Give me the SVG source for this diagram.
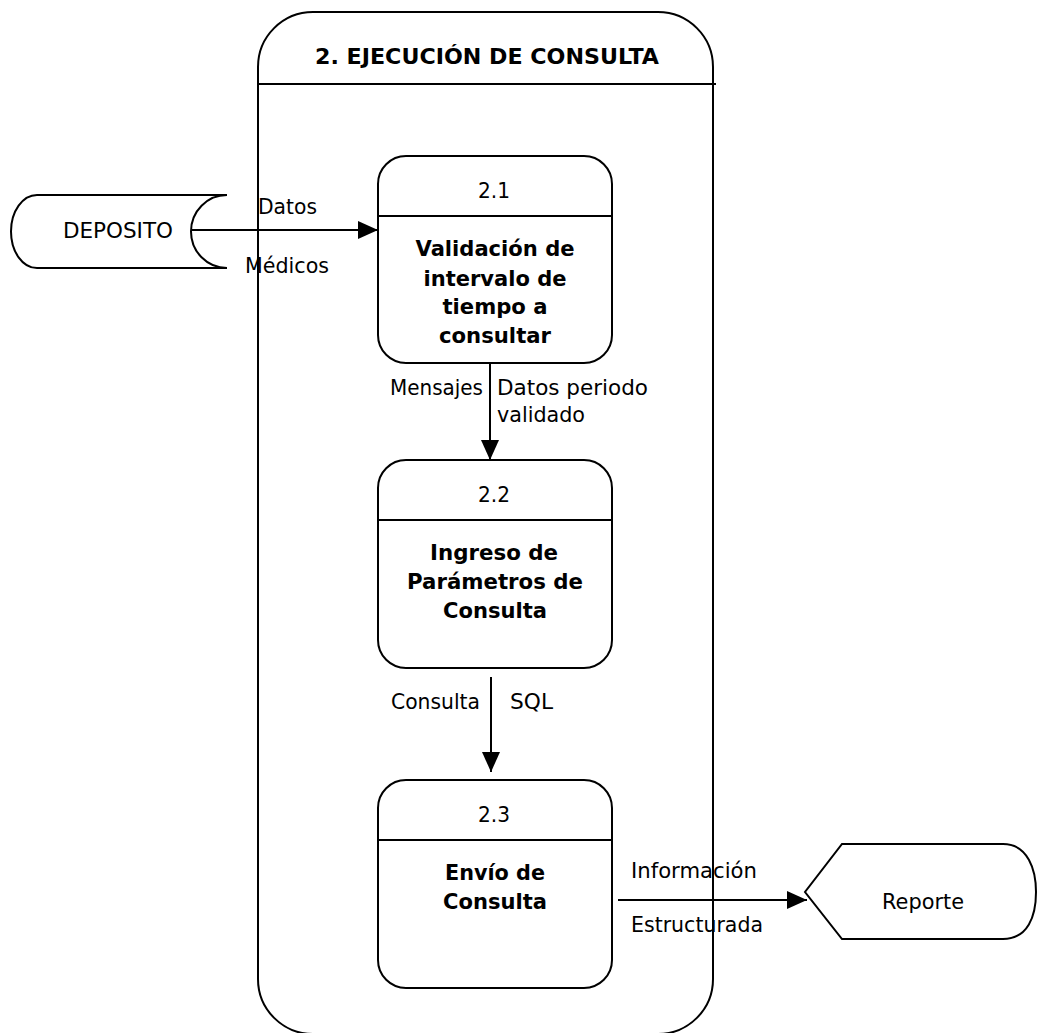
<svg xmlns="http://www.w3.org/2000/svg" width="1037" height="1033" viewBox="0 0 1037 1033">
  <style>
    .ln { fill: none; stroke: #000; stroke-width: 2; }
    .box { fill: #fff; stroke: #000; stroke-width: 2; }
    .t { font-family: "DejaVu Sans", Verdana, sans-serif; font-size: 22px; fill: #000; }
    .c { text-anchor: middle; }
    .b { font-weight: bold; font-size: 21px; }
    .h { font-weight: bold; font-size: 22px; }
  </style>
  <defs>
    <marker id="arrow" markerUnits="userSpaceOnUse" markerWidth="22" markerHeight="20" refX="20" refY="9" orient="auto">
      <path d="M0,0 L20,9 L0,18 Z" fill="#000"/>
    </marker>
  </defs>
  <rect width="1037" height="1033" fill="#fff"/>

  <!-- process frame -->
  <g id="frame">
    <path class="ln" d="M258,979 L258,67 A55,55 0 0 1 313,12 L658,12 A55,55 0 0 1 713,67 L713,979 A55,55 0 0 1 658,1034 L313,1034 A55,55 0 0 1 258,979 Z"/>
    <line class="ln" x1="258" y1="84" x2="716" y2="84"/>
    <text class="t h c" x="487" y="64" textLength="344" lengthAdjust="spacingAndGlyphs">2. EJECUCIÓN DE CONSULTA</text>
  </g>

  <!-- data store -->
  <g id="deposito">
    <path class="box" d="M37,195 L227,195 A36,36.5 0 0 0 227,268 L37,268 A26,36.5 0 0 1 37,195 Z"/>
    <text class="t" x="63" y="238" textLength="110" lengthAdjust="spacingAndGlyphs">DEPOSITO</text>
  </g>

  <!-- process 2.1 -->
  <g id="p21">
    <rect class="box" x="378" y="156" width="234" height="207" rx="28" ry="28"/>
    <line class="ln" x1="378" y1="216" x2="612" y2="216"/>
    <text class="t c" x="494" y="198" textLength="32" lengthAdjust="spacingAndGlyphs">2.1</text>
    <text class="t b c" x="495" y="256" textLength="159" lengthAdjust="spacingAndGlyphs">Validación de</text>
    <text class="t b c" x="495" y="286" textLength="143" lengthAdjust="spacingAndGlyphs">intervalo de</text>
    <text class="t b c" x="495" y="314" textLength="105" lengthAdjust="spacingAndGlyphs">tiempo a</text>
    <text class="t b c" x="495" y="343" textLength="112" lengthAdjust="spacingAndGlyphs">consultar</text>
  </g>

  <!-- process 2.2 -->
  <g id="p22">
    <rect class="box" x="378" y="460" width="234" height="208" rx="28" ry="28"/>
    <line class="ln" x1="378" y1="520" x2="612" y2="520"/>
    <text class="t c" x="494" y="502" textLength="32" lengthAdjust="spacingAndGlyphs">2.2</text>
    <text class="t b c" x="494" y="560" textLength="128" lengthAdjust="spacingAndGlyphs">Ingreso de</text>
    <text class="t b c" x="495" y="589" textLength="176" lengthAdjust="spacingAndGlyphs">Parámetros de</text>
    <text class="t b c" x="495" y="618" textLength="104" lengthAdjust="spacingAndGlyphs">Consulta</text>
  </g>

  <!-- process 2.3 -->
  <g id="p23">
    <rect class="box" x="378" y="780" width="234" height="208" rx="28" ry="28"/>
    <line class="ln" x1="378" y1="840" x2="612" y2="840"/>
    <text class="t c" x="494" y="822" textLength="32" lengthAdjust="spacingAndGlyphs">2.3</text>
    <text class="t b c" x="495" y="880" textLength="100" lengthAdjust="spacingAndGlyphs">Envío de</text>
    <text class="t b c" x="495" y="909" textLength="104" lengthAdjust="spacingAndGlyphs">Consulta</text>
  </g>

  <!-- external entity -->
  <g id="reporte">
    <path class="box" d="M842,844 L1003,844 C1028,844 1036,870 1036,892 C1036,916 1028,939 1003,939 L842,939 L805,892 Z"/>
    <text class="t" x="882" y="909" textLength="82" lengthAdjust="spacingAndGlyphs">Reporte</text>
  </g>

  <!-- data flows -->
  <g id="connectors">
    <line class="ln" x1="192" y1="230" x2="378" y2="230" marker-end="url(#arrow)"/>
    <line class="ln" x1="490" y1="363" x2="490" y2="460" marker-end="url(#arrow)"/>
    <line class="ln" x1="491" y1="677" x2="491" y2="772" marker-end="url(#arrow)"/>
    <line class="ln" x1="618" y1="900" x2="807" y2="900" marker-end="url(#arrow)"/>
  </g>

  <!-- flow labels -->
  <g id="labels">
    <text class="t" x="258" y="214" textLength="59" lengthAdjust="spacingAndGlyphs">Datos</text>
    <text class="t" x="245" y="273" textLength="84" lengthAdjust="spacingAndGlyphs">Médicos</text>
    <text class="t" x="390" y="395" textLength="93" lengthAdjust="spacingAndGlyphs">Mensajes</text>
    <text class="t" x="497" y="395" textLength="151" lengthAdjust="spacingAndGlyphs">Datos periodo</text>
    <text class="t" x="497" y="422" textLength="88" lengthAdjust="spacingAndGlyphs">validado</text>
    <text class="t" x="391" y="709" textLength="89" lengthAdjust="spacingAndGlyphs">Consulta</text>
    <text class="t" x="510" y="709" textLength="43" lengthAdjust="spacingAndGlyphs">SQL</text>
    <text class="t" x="631" y="878" textLength="126" lengthAdjust="spacingAndGlyphs">Información</text>
    <text class="t" x="631" y="932" textLength="132" lengthAdjust="spacingAndGlyphs">Estructurada</text>
  </g>
</svg>
